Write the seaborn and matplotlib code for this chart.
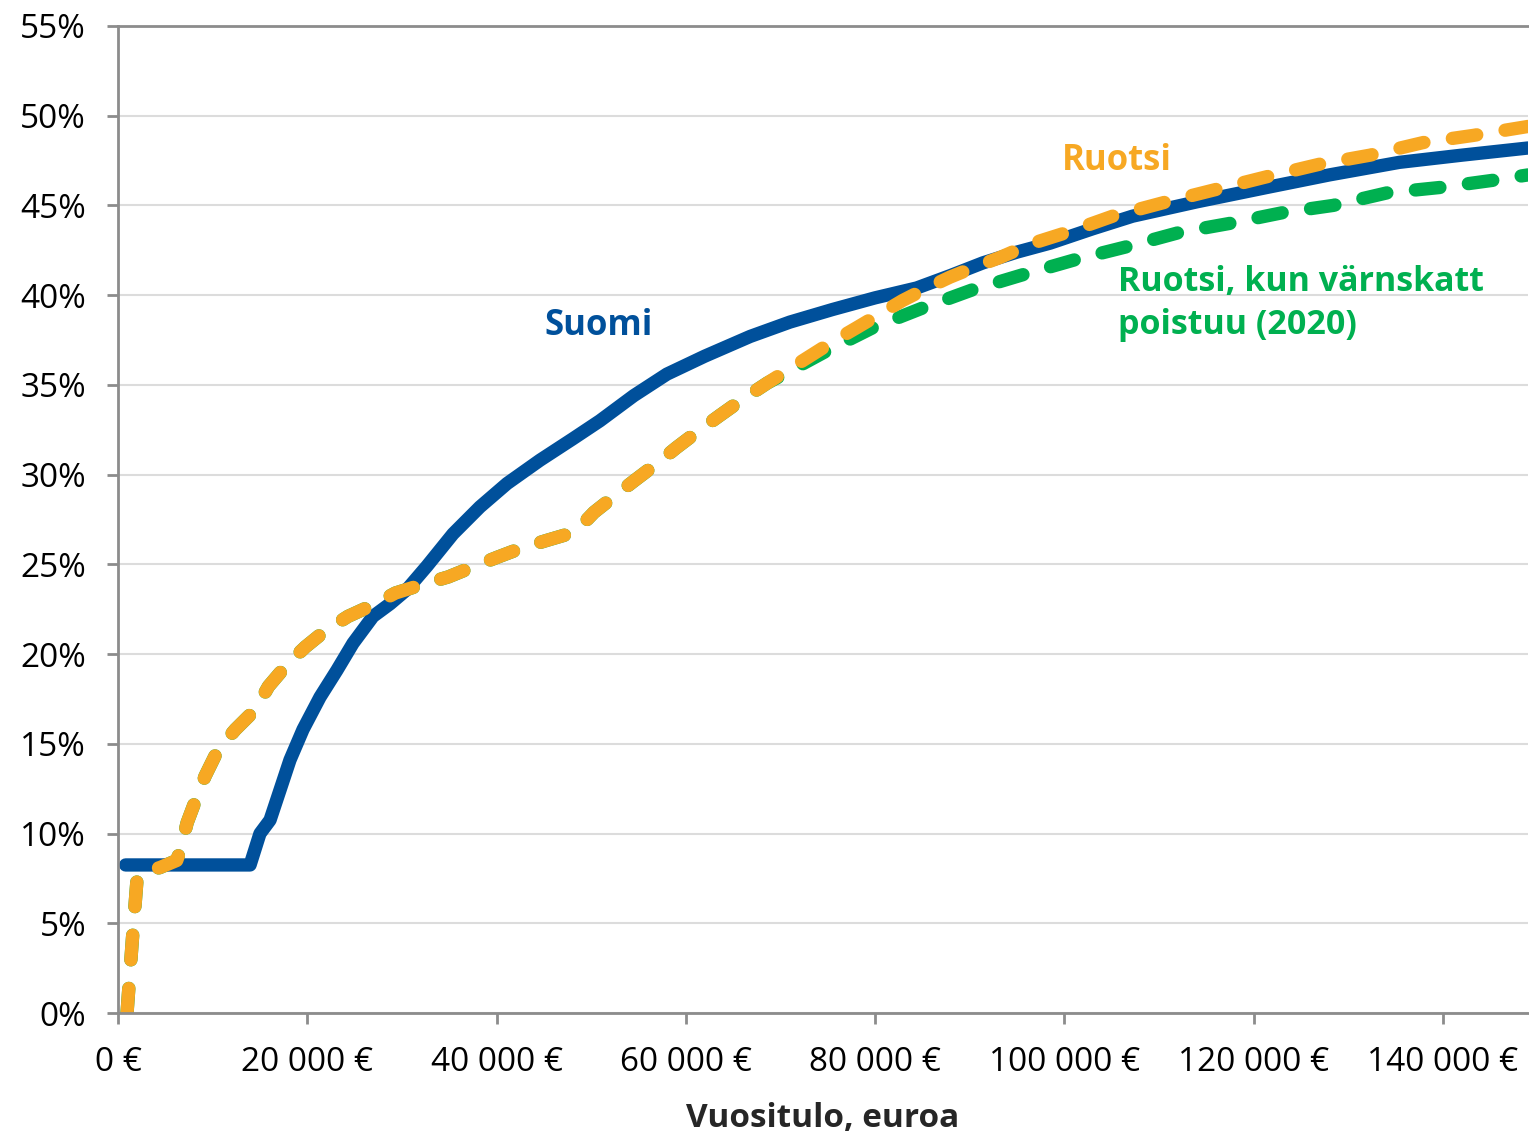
import matplotlib
matplotlib.use("Agg")
import matplotlib.pyplot as plt
import pandas as pd
import seaborn as sns
from matplotlib.ticker import FuncFormatter, MultipleLocator

# Suomi (solid blue)
suomi_x = [800, 13950, 15000, 16060, 17100, 18170, 19550, 21340, 23130, 24830,
           26940, 28740, 30530, 32640, 35400, 38240, 41100, 44580, 48070,
           50920, 54500, 58000, 62000, 66800, 71000, 75500, 80000, 84400,
           88000, 91400, 95000, 98500, 103000, 107200, 114000, 121400,
           128000, 135400, 142000, 149000]
suomi_y = [8.25, 8.25, 10.0, 10.75, 12.4, 14.1, 15.8, 17.6, 19.1, 20.6,
           22.1, 22.8, 23.6, 24.9, 26.7, 28.2, 29.5, 30.8, 32.0,
           33.0, 34.4, 35.6, 36.6, 37.7, 38.5, 39.2, 39.85, 40.4,
           41.1, 41.8, 42.4, 42.9, 43.7, 44.4, 45.2, 46.0,
           46.7, 47.4, 47.8, 48.2]

# Ruotsi (dashed orange)
ruotsi_x = [950, 1500, 2000, 2600, 4400, 6200, 6600, 7300, 8300, 9200, 10600,
            12400, 14500, 15900, 18000, 19800, 21900, 24300, 27200, 29300,
            32000, 34900, 37700, 40100, 42600, 45400, 48300, 50300, 52700,
            54400, 56900, 59000, 61500, 63600, 66000, 68600, 71000, 73100,
            75500, 78100, 80500, 82900, 85500, 87900, 90700, 93200, 96700,
            100300, 105100, 110800, 116100, 121400, 127000, 132300, 137900,
            143200, 149000]
ruotsi_y = [0.0, 4.0, 7.4, 7.9, 8.1, 8.5, 9.1, 10.6, 12.0, 13.2, 14.7,
            15.8, 16.9, 18.2, 19.5, 20.4, 21.3, 22.1, 22.8, 23.4,
            23.85, 24.3, 24.9, 25.4, 25.9, 26.35, 26.8, 27.9, 28.9,
            29.6, 30.6, 31.5, 32.5, 33.3, 34.2, 35.1, 35.9, 36.6,
            37.4, 38.2, 38.95, 39.7, 40.4, 41.0, 41.6, 42.1, 42.9,
            43.5, 44.4, 45.2, 45.9, 46.6, 47.3, 47.8, 48.5,
            48.9, 49.4]

# Ruotsi without värnskatt (dashed green), same as Ruotsi below ~69 000 €
varnskatt_x = [74900, 79800, 85100, 90300, 96000, 101300, 106600, 112200,
               117500, 123100, 128400, 134100, 139700, 145300, 149000]
varnskatt_y = [36.9, 38.2, 39.3, 40.3, 41.2, 42.0, 42.7, 43.5,
               44.0, 44.6, 45.0, 45.7, 46.0, 46.4, 46.7]

blue = "#00509b"
orange = "#f7a823"
green = "#00b050"

sns.set_theme(style="white")
plt.rcParams["font.family"] = ["Open Sans", "DejaVu Sans"]

fig = plt.figure(figsize=(15.29, 11.33), dpi=100)
ax = fig.add_axes([0.0772, 0.1059, 0.9222, 0.8712])

k = ruotsi_x.index(68600) + 1
green_df = pd.DataFrame({"x": ruotsi_x[:k] + varnskatt_x,
                         "y": ruotsi_y[:k] + varnskatt_y})
suomi_df = pd.DataFrame({"x": suomi_x, "y": suomi_y})
ruotsi_df = pd.DataFrame({"x": ruotsi_x, "y": ruotsi_y})

dash = (0, (1.85, 2.15))
sns.lineplot(data=green_df, x="x", y="y", ax=ax, color=green, linewidth=9.6,
             linestyle=dash, dash_capstyle="round", dash_joinstyle="round",
             estimator=None)
sns.lineplot(data=suomi_df, x="x", y="y", ax=ax, color=blue, linewidth=9.6,
             solid_capstyle="round", solid_joinstyle="round", estimator=None)
sns.lineplot(data=ruotsi_df, x="x", y="y", ax=ax, color=orange, linewidth=9.6,
             linestyle=dash, dash_capstyle="round", dash_joinstyle="round",
             estimator=None)

ax.set_xlim(0, 149000)
ax.set_ylim(0, 55)
ax.xaxis.set_major_locator(MultipleLocator(20000))
ax.yaxis.set_major_locator(MultipleLocator(5))
ax.xaxis.set_major_formatter(FuncFormatter(lambda v, p: f"{v:,.0f} €".replace(",", " ")))
ax.yaxis.set_major_formatter(FuncFormatter(lambda v, p: f"{v:.0f}%"))

ax.grid(axis="y", color="#dcdcdc", linewidth=1.5)
ax.set_axisbelow(True)
for side in ["left", "bottom", "top"]:
    ax.spines[side].set_color("#8c8c8c")
    ax.spines[side].set_linewidth(2)
ax.spines["right"].set_visible(False)
ax.tick_params(axis="both", which="major", direction="out", length=8, width=2,
               color="#8c8c8c", labelsize=24, labelcolor="black")
ax.tick_params(axis="x", bottom=True, pad=16)
ax.tick_params(axis="y", left=True, pad=15)

ax.set_xlabel("Vuositulo, euroa", fontsize=24, fontweight="bold", labelpad=16)
ax.set_ylabel("")

ax.text(45100, 38.3, "Suomi", color=blue, fontsize=25, fontweight="bold",
        ha="left", va="center")
ax.text(99700, 47.5, "Ruotsi", color=orange, fontsize=25, fontweight="bold",
        ha="left", va="center")
ax.text(105700, 39.55, "Ruotsi, kun värnskatt\npoistuu (2020)", color=green,
        fontsize=24.5, fontweight="bold", ha="left", va="center", linespacing=1.35)

fig.savefig("out.png", dpi=100)
